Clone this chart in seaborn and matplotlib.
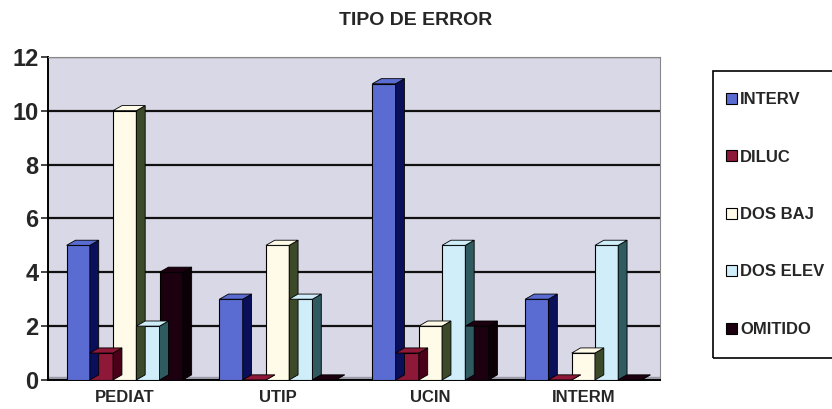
import pandas as pd
import matplotlib
matplotlib.use("Agg")
import matplotlib.pyplot as plt
import seaborn as sns
from matplotlib.patches import Polygon, Patch, Rectangle

# data
categories = ["PEDIAT", "UTIP", "UCIN", "INTERM"]
series = ["INTERV", "DILUC", "DOS BAJ", "DOS ELEV", "OMITIDO"]
interv = [5, 3, 11, 3]
diluc = [1, 0, 1, 0]
dos_baj = [10, 5, 2, 1]
dos_elev = [2, 3, 5, 5]
omitido = [4, 0, 2, 0]

front_colors = ["#5a6cd2", "#8e1838", "#fffbe8", "#cfeefa", "#1c0010"]
side_colors = ["#0a0f5a", "#4a0018", "#3c4a2a", "#2f5a60", "#0a0005"]

df = pd.DataFrame({
    "cat": categories * 5,
    "serie": sum([[s] * 4 for s in series], []),
    "val": interv + diluc + dos_baj + dos_elev + omitido,
})

sns.set_style("white")
plt.rcParams["font.family"] = ["Liberation Sans", "DejaVu Sans"]

fig = plt.figure(figsize=(8.32, 4.09), dpi=100)
ax = fig.add_axes([0.058, 0.071, 0.735, 0.79])
ax.set_facecolor("#d9d8e6")

sns.barplot(data=df, x="cat", y="val", hue="serie", order=categories,
            hue_order=series, palette=front_colors, width=0.76,
            edgecolor="black", linewidth=0.8, saturation=1, ax=ax,
            legend=False, zorder=3)

# grey floor of the 3D look
ax.axhspan(0, 0.12, color="#9a9aa8", zorder=2)

# fake 3D depth built from the bar geometry
dx, dy = 0.058, 0.19
for i, cont in enumerate(ax.containers):
    for p in cont.patches:
        x0 = p.get_x()
        w = p.get_width()
        h = p.get_height()
        x1 = x0 + w
        side = Polygon([(x1, 0), (x1 + dx, dy), (x1 + dx, h + dy), (x1, h)],
                       closed=True, facecolor=side_colors[i],
                       edgecolor="black", lw=0.6, zorder=3)
        top = Polygon([(x0, h), (x0 + dx, h + dy), (x1 + dx, h + dy), (x1, h)],
                      closed=True, facecolor=front_colors[i],
                      edgecolor="black", lw=0.6, zorder=3)
        ax.add_patch(side)
        ax.add_patch(top)

ax.set_ylim(0, 12)
ax.set_xlim(-0.5, 3.5)
ax.set_yticks(range(0, 13, 2))
ax.yaxis.grid(True, color="#111111", lw=1.6, zorder=0)
ax.set_axisbelow(True)
ax.tick_params(axis="y", labelsize=17, length=5, width=1.2, direction="out",
               left=True, pad=2)
for lab in ax.get_yticklabels():
    lab.set_fontweight("bold")
ax.set_xticks(range(len(categories)))
ax.set_xticklabels(categories, fontsize=12, fontweight="bold")
ax.tick_params(axis="x", length=0, pad=7)
ax.set_xticks([0.5, 1.5, 2.5, 3.5], minor=True)
ax.tick_params(axis="x", which="minor", length=5, width=1.0, direction="out")
ax.set_xlabel("")
ax.set_ylabel("")

for s in ["top", "right"]:
    ax.spines[s].set_color("#888888")
    ax.spines[s].set_linewidth(0.8)
ax.spines["left"].set_color("black")
ax.spines["left"].set_linewidth(1.4)
ax.spines["bottom"].set_color("black")
ax.spines["bottom"].set_linewidth(1.4)

fig.text(0.5, 0.951, "TIPO DE ERROR", ha="center", va="center",
         fontsize=14, fontweight="bold")

# legend box, its right side runs off the picture like in the scan
fig.patches.append(Rectangle((713 / 832, 1 - 358 / 409), 130 / 832, 287 / 409,
                             transform=fig.transFigure, fill=False,
                             edgecolor="black", lw=1.2))
handles = [Patch(facecolor=c, edgecolor="black", lw=0.8) for c in front_colors]
leg = fig.legend(handles, series, loc="upper left",
                 bbox_to_anchor=(726 / 832, 1 - 92 / 409), frameon=False,
                 fontsize=12, handlelength=0.65, handleheight=0.65,
                 handletextpad=0.2, labelspacing=2.55, borderpad=0,
                 borderaxespad=0)
for t in leg.get_texts():
    t.set_fontweight("bold")

fig.savefig("out.png", dpi=100)
